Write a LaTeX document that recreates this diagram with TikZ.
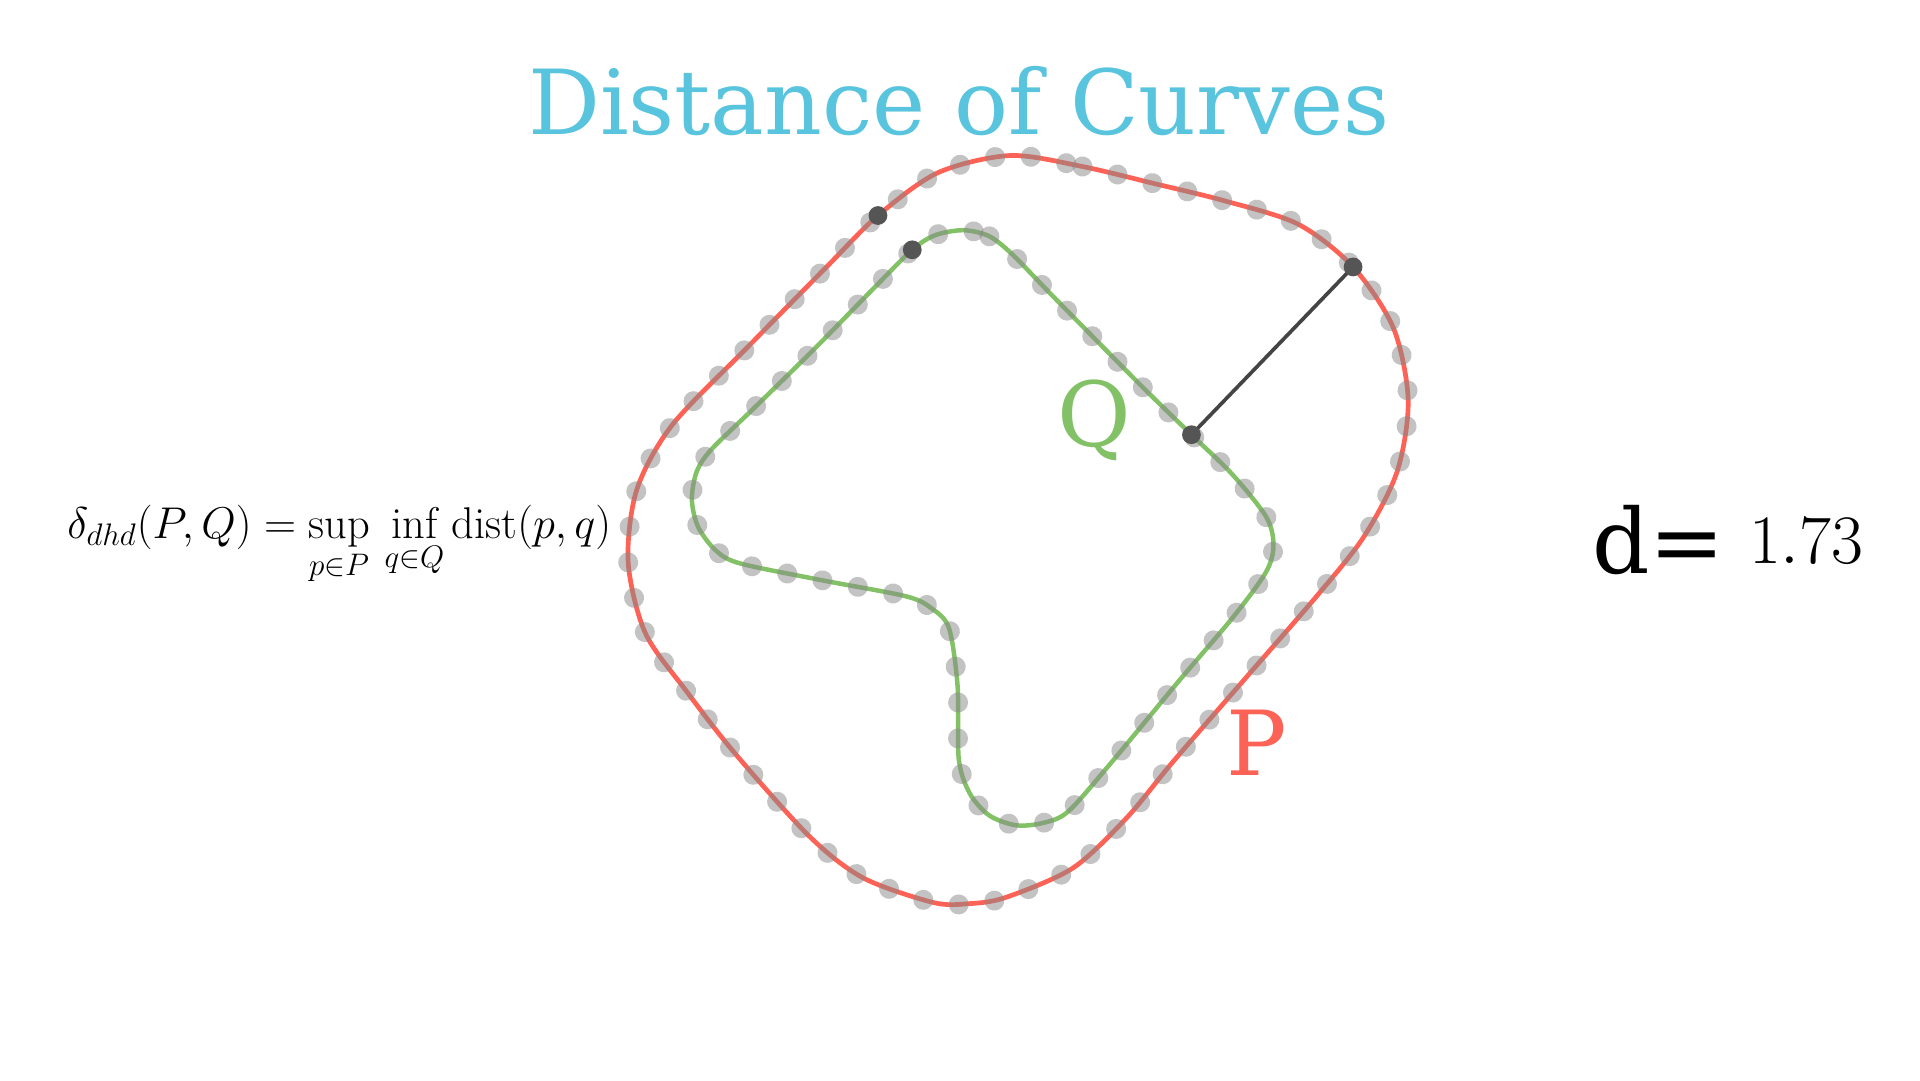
\RequirePackage{fix-cm}
\documentclass[tikz,border=0pt]{standalone}
\usepackage{amsmath}
\usepackage{fontspec}
\newfontfamily\djv{DejaVu Serif}
\usetikzlibrary{decorations.markings}
\definecolor{titleblue}{HTML}{58C4DD}
\definecolor{pred}{HTML}{FC6255}
\definecolor{qgreen}{HTML}{83C167}
\definecolor{dotgray}{HTML}{888888}
\definecolor{darkdot}{HTML}{555555}
\definecolor{segcol}{HTML}{444444}
\tikzset{
  pcurve/.style={draw=pred, line width=2.3pt},
  qcurve/.style={draw=qgreen, line width=2.2pt},
  graydots/.style={decorate, decoration={markings,
      mark=between positions 0 and 1 step 17.6pt with {\fill[dotgray, opacity=0.5] (0,0) circle (4.9pt);}}},
  bigletter/.style={font=\djv\fontsize{44}{50}\selectfont, anchor=base},
  keydot/.style={fill=darkdot}
}
\begin{document}
\begin{tikzpicture}[x=0.6pt, y=-0.6pt]
\fill[white] (0,0) rectangle (1568,882);
\useasboundingbox (0,0) rectangle (1568,882);

\node[bigletter, text=titleblue] (title) at (783,110) {Distance of Curves};

\def\pcoords{(825,127) (884,136) (943,150) (1000,164) (1060,183) (1105,218) (1138,268) (1150,327) (1141,385) (1114,438) (1076,486) (1017,554) (958,622) (920,668) (876,709) (821,733) (791,738) (762,737) (705,717) (661,683) (600,615) (561,565) (527,517) (513,459) (520,400) (549,347) (611,283) (675,218) (717,176) (766,141)}
\def\qcoords{(787,188) (808,193) (827,208) (859,241) (932,315) (973,355) (1006,387) (1034,422) (1040,445) (1034,467) (1007,504) (962,557) (904,627) (872,663) (852,672) (830,674) (808,666) (792,648) (783,620) (782,560) (775,513) (761,497) (740,487) (672,474) (604,460) (584,449) (570,430) (565,408) (569,385) (581,367) (614,335) (664,286) (712,237) (745,204) (764,192)}

\draw[pcurve] plot[smooth cycle, tension=0.5] coordinates {\pcoords};
\draw[qcurve] plot[smooth cycle, tension=0.5] coordinates {\qcoords};
\path[graydots] plot[smooth cycle, tension=0.5] coordinates {\pcoords};
\path[graydots] plot[smooth cycle, tension=0.5] coordinates {\qcoords};

\node[bigletter, text=qgreen] (qlabel) at (894,365) {Q};
\node[bigletter, text=pred] (plabel) at (1026,633) {P};

\coordinate (qpt) at (973,355);
\coordinate (ppt) at (1105,218);
\coordinate (pdot) at (717,176);
\coordinate (qdot) at (745,204);
\draw[segcol, line width=1.8pt] (qpt) -- (ppt);
\foreach \c in {qpt,ppt,pdot,qdot} \fill[keydot] (\c) circle (4.6pt);

\node[anchor=base, inner sep=0pt] (formula) at (277,440)
  {\fontsize{21.8}{26}\selectfont $\displaystyle \delta_{dhd}(P,Q)=\sup_{p\in P}\,\inf_{q\in Q}\operatorname{dist}(p,q)$};

\node[anchor=base west, inner sep=0pt, font=\djv\fontsize{44}{50}\selectfont] (dlabel) at (1300,468) {d=};
\node[anchor=base west, inner sep=0pt] (dvalue) at (1428,460) {\fontsize{34}{40}\selectfont $1.73$};
\end{tikzpicture}
\end{document}
